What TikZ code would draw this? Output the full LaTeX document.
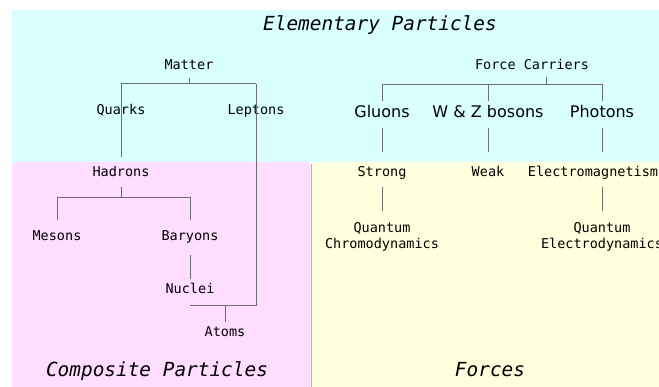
\documentclass[tikz,border=0pt]{standalone}
\usepackage{fontspec}
\newfontfamily\labfont{DejaVu Sans Mono}
\newfontfamily\propfont{DejaVu Sans}
\definecolor{cyanbg}{RGB}{218,255,255}
\definecolor{pinkbg}{RGB}{255,221,255}
\definecolor{yellowbg}{RGB}{255,255,221}
\definecolor{linegray}{RGB}{110,110,110}
\begin{document}
\begin{tikzpicture}[x=1pt,y=-1pt,
  lab/.style={font=\labfont\fontsize{13.5}{16.7}\selectfont, text height=9.5pt, text depth=2.5pt, inner xsep=1pt, inner ysep=5pt},
  big/.style={font=\propfont\fontsize{16}{19}\selectfont, text height=12pt, text depth=3.5pt, inner xsep=1pt, inner ysep=4pt},
  multi/.style={font=\labfont\fontsize{13.5}{16.7}\selectfont, align=center, inner xsep=0pt, inner ysep=0pt, anchor=north},
  title/.style={font=\labfont\itshape\fontsize{19.4}{22}\selectfont, text height=14pt, text depth=4.5pt},
  link/.style={draw=linegray, line width=1pt}]
\clip (0,0) rectangle (659,387);
\fill[white] (0,0) rectangle (659,387);
% panels
\fill[cyanbg] (12,10) rectangle (659,162);
\fill[pinkbg, rounded corners=3pt] (12,162) rectangle (310.5,395);
\fill[yellowbg, rounded corners=3pt] (311.8,162) rectangle (670,395);
\draw[gray!60, line width=0.6pt] (311.2,164) -- (311.2,387);
% titles
\node[title] (ep) at (380,26) {Elementary Particles};
\node[title] (cp) at (157,372) {Composite Particles};
\node[title] (forces) at (490,372) {Forces};
% left tree
\node[lab] (matter) at (189,66.5) {Matter};
\node[lab] (quarks) at (121,111.5) {Quarks};
\node[lab] (leptons) at (256,111.5) {Leptons};
\node[lab] (hadrons) at (121,173) {Hadrons};
\node[lab] (mesons) at (57,237.5) {Mesons};
\node[lab] (baryons) at (190,237.5) {Baryons};
\node[lab] (nuclei) at (190,290.5) {Nuclei};
\node[lab] (atoms) at (225,333.5) {Atoms};
\coordinate (mj) at (189,84);
\coordinate (hj) at (121,198);
\coordinate (aj) at (225,306);
\draw[link] (matter.south) -- (matter.south |- mj);
\draw[link] (quarks |- mj) -- (leptons |- mj);
\draw[link, shorten >=5pt] (quarks |- mj) -- (hadrons.north);
\draw[link, shorten <=3pt] (hadrons.south) -- (hadrons |- hj);
\draw[link, shorten <=6pt, shorten >=6pt] (mesons.north) |- (baryons |- hj) -- (baryons.north);
\draw[link, shorten <=6.5pt] (baryons.south) -- (nuclei.north);
\draw[link, shorten <=3pt] (nuclei.south) |- (leptons |- aj) -- (leptons |- mj);
\draw[link] (atoms |- aj) -- (atoms.north);
% right tree
\node[lab] (fc) at (532,66) {Force Carriers};
\coordinate (fj) at (546,85);
\node[big] (gluons) at (382,113.4) {Gluons};
\node[big] (wz) at (488,113.4) {W \& Z bosons};
\node[big] (photons) at (602,113.4) {Photons};
\node[lab] (strong) at (382,173) {Strong};
\node[lab] (weak) at (488,173) {Weak};
\node[lab] (em) at (593,173) {Electromagnetism};
\node[multi] (qcd) at (382,222) {Quantum\\Chromodynamics};
\node[multi] (qed) at (602,222) {Quantum\\Electrodynamics};
\draw[link] (fc.south -| fj) -- (fj);
\draw[link] (gluons.north) |- (photons |- fj) -- (photons.north);
\draw[link] (wz.north) -- (wz |- fj);
\draw[link, shorten <=3pt, shorten >=10pt] (gluons.south) -- (strong.north);
\draw[link, shorten <=3pt, shorten >=10pt] (wz.south) -- (weak.north);
\draw[link, shorten <=3pt, shorten >=10pt] (photons.south) -- (photons |- em.north);
\draw[link, shorten <=3pt, shorten >=11pt] (strong.south) -- (qcd.north);
\draw[link, shorten <=3pt, shorten >=11pt] (photons |- em.south) -- (qed.north);
\end{tikzpicture}
\end{document}
